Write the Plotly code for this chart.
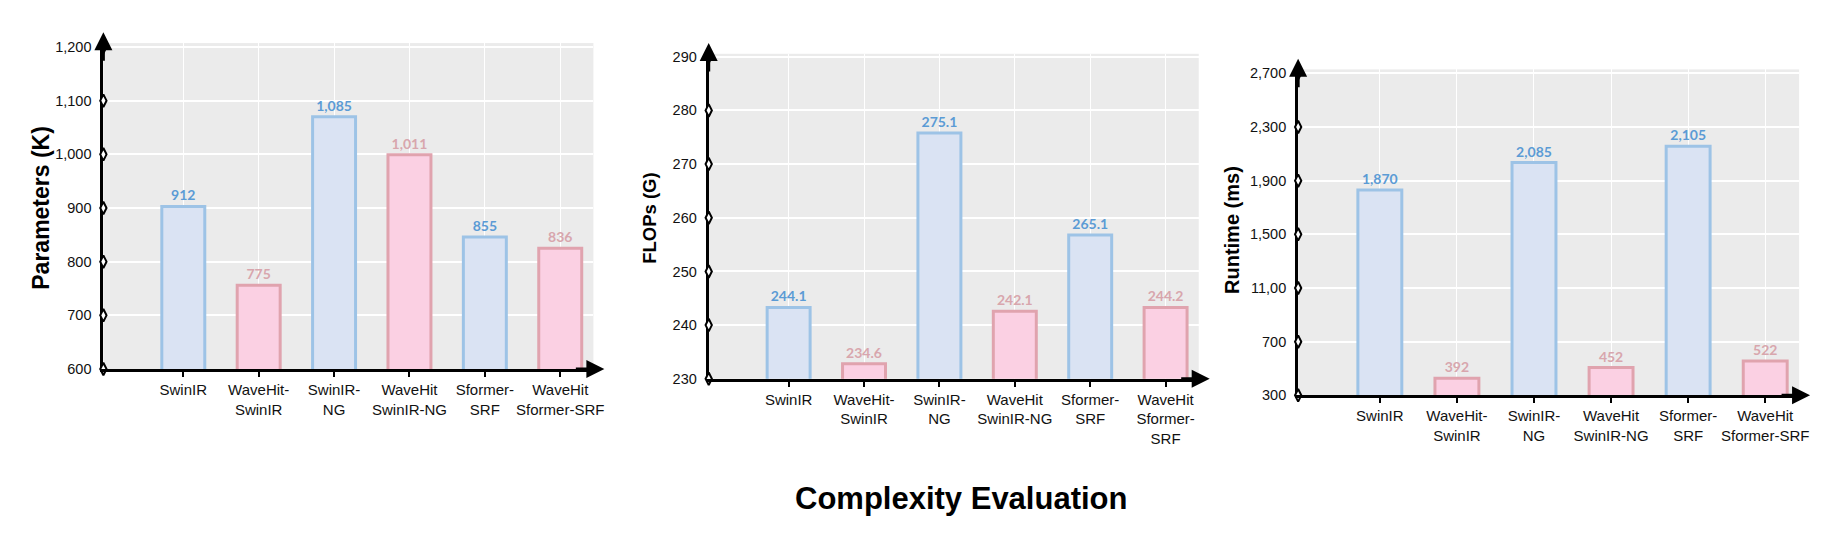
import plotly.graph_objects as go

# ---------------- data ----------------
categories_1 = ["SwinIR", "WaveHit-<br>SwinIR", "SwinIR-<br>NG", "WaveHit<br>SwinIR-NG", "Sformer-<br>SRF", "WaveHit<br>Sformer-SRF"]
categories_2 = ["SwinIR", "WaveHit-<br>SwinIR", "SwinIR-<br>NG", "WaveHit<br>SwinIR-NG", "Sformer-<br>SRF", "WaveHit<br>Sformer-<br>SRF"]
categories_3 = categories_1

# printed values (labels)
params_printed = [912, 775, 1085, 1011, 855, 836]
flops_printed = [244.1, 234.6, 275.1, 242.1, 265.1, 244.2]
runtime_printed = [1870, 392, 2085, 452, 2105, 522]

# bar heights as drawn in the picture
params_bar = [903, 756, 1070, 999, 846, 825]
flops_bar = [243.3, 232.8, 275.8, 242.6, 256.8, 243.3]
runtime_bar = [1830, 428, 2035, 507, 2157, 556]

params_ticks = [600, 700, 800, 900, 1000, 1100, 1200]
params_ticktext = ["600", "700", "800", "900", "1,000", "1,100", "1,200"]
flops_ticks = [230, 240, 250, 260, 270, 280, 290]
flops_ticktext = ["230", "240", "250", "260", "270", "280", "290"]
runtime_ticks = [300, 700, 1100, 1500, 1900, 2300, 2700]
runtime_ticktext = ["300", "700", "11,00", "1,500", "1,900", "2,300", "2,700"]

y_titles = ["Parameters (K)", "FLOPs (G)", "Runtime (ms)"]
main_title = "Complexity Evaluation"

# ---------------- style ----------------
W, H = 1831, 540
BLUE_FILL, BLUE_LINE, BLUE_TEXT = "#DAE3F3", "#9DC3E6", "#5B9BD5"
PINK_FILL, PINK_LINE, PINK_TEXT = "#FBD0E3", "#E0A3AE", "#D8A6AD"
fills = [BLUE_FILL, PINK_FILL] * 3
lines = [BLUE_LINE, PINK_LINE] * 3
tcols = [BLUE_TEXT, PINK_TEXT] * 3
TICKFONT = "Liberation Sans, Arial, sans-serif"
VALFONT = "Lato, Open Sans, Liberation Sans, sans-serif"
XRANGE = [-0.06, 6.44]
xpos = [1, 2, 3, 4, 5, 6]

panels = [
    dict(cats=categories_1, bars=params_bar, printed=params_printed, fmt=lambda v: f"{v:,}",
         ticks=params_ticks, ticktext=params_ticktext, yrange=[600, 1207.3],
         xdom=[104 / W, 597 / W], ydom=[1 - 373 / H, 1 - 39 / H],
         title_xy=(41, 208), title_size=23),
    dict(cats=categories_2, bars=flops_bar, printed=flops_printed, fmt=lambda v: f"{v:.1f}",
         ticks=flops_ticks, ticktext=flops_ticktext, yrange=[230, 290.55],
         xdom=[713 / W, 1206 / W], ydom=[1 - 383 / H, 1 - 50 / H],
         title_xy=(654, 219), title_size=18.5),
    dict(cats=categories_3, bars=runtime_bar, printed=runtime_printed, fmt=lambda v: f"{v:,}",
         ticks=runtime_ticks, ticktext=runtime_ticktext, yrange=[300, 2729],
         xdom=[1306 / W, 1810 / W], ydom=[1 - 400 / H, 1 - 66 / H],
         title_xy=(1240, 231), title_size=20),
]

fig = go.Figure()
annotations = []
layout = {}

for i, p in enumerate(panels, start=1):
    xa = "x" if i == 1 else f"x{i}"
    ya = "y" if i == 1 else f"y{i}"
    xkey = "xaxis" if i == 1 else f"xaxis{i}"
    ykey = "yaxis" if i == 1 else f"yaxis{i}"

    fig.add_trace(go.Bar(
        x=xpos, y=p["bars"], width=0.57,
        marker=dict(color=fills, line=dict(color=lines, width=3)),
        text=[p["fmt"](v) for v in p["printed"]],
        textposition="outside", constraintext="none",
        textfont=dict(family=VALFONT, size=14, color=tcols, weight="bold"),
        cliponaxis=False,
        xaxis=xa, yaxis=ya, showlegend=False, hoverinfo="skip",
    ))
    # y-axis tick markers (diamonds on the axis line)
    fig.add_trace(go.Scatter(
        x=[XRANGE[0]] * len(p["ticks"]), y=p["ticks"], mode="markers",
        marker=dict(symbol="diamond-tall", size=9, color="white", line=dict(color="black", width=2)),
        cliponaxis=False, xaxis=xa, yaxis=ya, showlegend=False, hoverinfo="skip",
    ))

    layout[xkey] = dict(
        domain=p["xdom"], anchor=ya, range=XRANGE,
        tickmode="array", tickvals=xpos, ticktext=p["cats"], tickangle=0,
        showgrid=True, gridcolor="white", gridwidth=1,
        showline=True, linecolor="black", linewidth=3,
        ticks="outside", ticklen=5, tickwidth=2, tickcolor="black",
        tickfont=dict(family=TICKFONT, size=15, color="#111"),
        zeroline=False, fixedrange=True,
    )
    layout[ykey] = dict(
        domain=p["ydom"], anchor=xa, range=p["yrange"],
        tickmode="array", tickvals=p["ticks"], ticktext=p["ticktext"],
        showgrid=True, gridcolor="white", gridwidth=1.5,
        showline=True, linecolor="black", linewidth=3,
        ticks="", ticklabelstandoff=6,
        tickfont=dict(family=TICKFONT, size=14.5, color="#111"),
        zeroline=False, fixedrange=True, layer="below traces",
    )

    # axis arrowheads
    annotations.append(dict(
        xref=f"{xa} domain", yref=f"{ya} domain", x=0, y=1 + 11 / ((p["ydom"][1] - p["ydom"][0]) * H),
        ax=0, ay=30, axref="pixel", ayref="pixel", text="", showarrow=True,
        arrowhead=2, arrowsize=1.2, arrowwidth=3, arrowcolor="black"))
    annotations.append(dict(
        xref=f"{xa} domain", yref=f"{ya} domain", x=1 + 11 / ((p["xdom"][1] - p["xdom"][0]) * W), y=0,
        ax=-30, ay=0, axref="pixel", ayref="pixel", text="", showarrow=True,
        arrowhead=2, arrowsize=1.2, arrowwidth=3, arrowcolor="black"))
    # y-axis title
    tx, ty = p["title_xy"]
    annotations.append(dict(
        xref="paper", yref="paper", x=tx / W, y=1 - ty / H, text=y_titles[i - 1],
        textangle=-90, showarrow=False, xanchor="center", yanchor="middle",
        font=dict(family="Liberation Sans, Arial, sans-serif", size=p["title_size"], color="black", weight="bold")))

annotations.append(dict(
    xref="paper", yref="paper", x=967 / W, y=1 - 506 / H, text=main_title, showarrow=False,
    xanchor="center", yanchor="middle",
    font=dict(family="Liberation Sans, Arial, sans-serif", size=31, color="black", weight="bold")))

fig.update_layout(
    width=W, height=H, margin=dict(l=0, r=0, t=0, b=0),
    paper_bgcolor="white", plot_bgcolor="#EBEBEB",
    annotations=annotations,
    **layout,
)

fig.write_html("out.html", config={"displayModeBar": False})
